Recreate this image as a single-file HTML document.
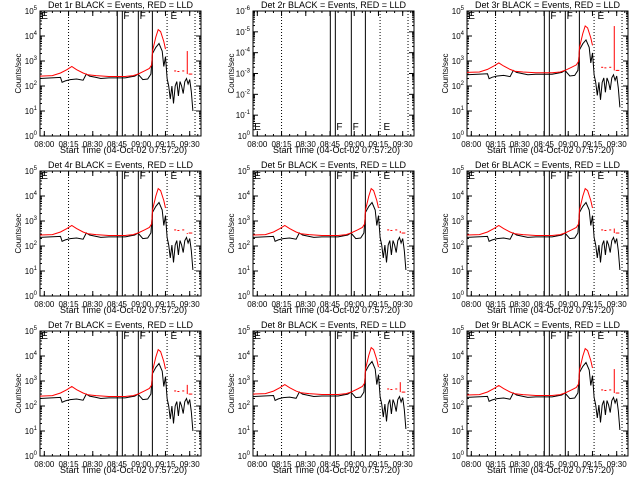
<!DOCTYPE html>
<html><head><meta charset="utf-8"><style>
html,body{margin:0;padding:0;background:#fff;}
svg{display:block;font-family:"Liberation Sans",sans-serif;}
</style></head><body>
<svg id="c" width="640" height="480" viewBox="0 0 640 480"></svg>
<script>
// ---- data ----
const detectors = ["1r","2r","3r","4r","5r","6r","7r","8r","9r"];
const hasData = [true,false,true,true,true,true,true,true,true];
const scale = [1.0,1,1.4,1.1,1.1,1.1,1.0,1.2,1.1];
const spikeRed = [2500,0,25000,300,400,500,700,900,3000];
const xTickLabels = ["08:00","08:15","08:30","08:45","09:00","09:15","09:30"];
const xTickMins = [0,15,30,45,60,75,90];
const solidLines = [45.2,48.3,58.2,66.9];
const dottedLines = [15,76,93.3];
const markers = [["E",-2.5],["F",48.3],["F",58.4],["E",77.5]];
const redT = [-2.7,5,10,14,17,20,24,27,32,40,50,55,58,62,65,66.5,67,69,70.5,72,74,75];
const redV = [250,260,330,450,600,450,330,280,260,240,240,260,300,400,500,700,2500,9000,18000,15000,6000,3000];
const blackT = [-2.7,10,11,13,16,20,24,26,28,32,35,40,50,56,58,61,64,66,67,69,71,73,74,75,76,77,78,79,80,81,82,83,84,85,86,87,88,89,90,91,92];
const blackV = [200,220,140,160,180,190,170,300,250,220,200,210,210,250,300,180,190,300,2000,3500,5000,2500,600,1500,200,100,30,100,20,100,150,40,150,100,50,150,200,120,180,60,10];
const redDotT = [81,83,86,90,91];
const redDotV = [400,380,400,300,300];
const spikeT = 88.5;

// ---- layout ----
const NS="http://www.w3.org/2000/svg";
const svg=document.getElementById('c');
const colX=[0,213,427], rowY=[0,160,320];
const BX0=40,BX1=201,BY0=11,BY1=136;
const tMin=-2.67,tMax=97;
function el(tag,attrs,parent){const e=document.createElementNS(NS,tag);for(const k in attrs)e.setAttribute(k,attrs[k]);(parent||svg).appendChild(e);return e;}

detectors.forEach((d,i)=>{
  const ox=colX[i%3], oy=rowY[Math.floor(i/3)];
  const g=el('g',{transform:`translate(${ox},${oy})`});
  
  
  const xs=t=>BX0+(t-tMin)/(tMax-tMin)*(BX1-BX0);
  const lo = hasData[i]?0:-6, hi = hasData[i]?5:0;
  const ys=v=>BY1-(Math.log10(v)-lo)/(hi-lo)*(BY1-BY0);
  const ysl=l=>BY1-(l-lo)/(hi-lo)*(BY1-BY0);
  const title=el('text',{x:(BX0+BX1)/2,y:8,'text-anchor':'middle','font-size':'9'},g);
  title.textContent=`Det ${d} BLACK = Events, RED = LLD`;
  
  
  const box=el('rect',{x:BX0,y:BY0,width:BX1-BX0,height:BY1-BY0,fill:'none',stroke:'#000','stroke-width':1},g);
  
  
  for(let k=0;k<=hi-lo;k++){
    const y=ysl(lo+k);
    el('line',{x1:BX0,x2:BX0+5,y1:y,y2:y,stroke:'#000'},g);
    el('line',{x1:BX1,x2:BX1-5,y1:y,y2:y,stroke:'#000'},g);
    if(k<hi-lo){for(let m=2;m<10;m++){const ym=ysl(lo+k+Math.log10(m));
      el('line',{x1:BX0,x2:BX0+2,y1:ym,y2:ym,stroke:'#000'},g);
      el('line',{x1:BX1,x2:BX1-2,y1:ym,y2:ym,stroke:'#000'},g);}}
    const lab=el('text',{x:BX0-3,y:y+3,'text-anchor':'end','font-size':'8'},g);
    const ex = hasData[i]? k : (k===0?0:(k===6?-6:-k));
    lab.innerHTML=`10<tspan dy="-4" font-size="6">${ex}</tspan>`;
    
    
  }
  xTickMins.forEach((t,j)=>{
    const x=xs(t);
    el('line',{x1:x,x2:x,y1:BY1,y2:BY1-5,stroke:'#000'},g);
    el('line',{x1:x,x2:x,y1:BY0,y2:BY0+5,stroke:'#000'},g);
    const lab=el('text',{x:x,y:BY1+11,'text-anchor':'middle','font-size':'8'},g);
    lab.textContent=xTickLabels[j];
    
    
  });
  for(let t=0;t<tMax;t+=5){const x=xs(t);
    el('line',{x1:x,x2:x,y1:BY1,y2:BY1-2,stroke:'#000'},g);
    el('line',{x1:x,x2:x,y1:BY0,y2:BY0+2,stroke:'#000'},g);}
  const xt=el('text',{x:(BX0+BX1)/2+3,y:153,'text-anchor':'middle','font-size':'9'},g);
  xt.textContent='Start Time (04-Oct-02 07:57:20)';
  
  
  const yt=el('text',{x:0,y:0,'text-anchor':'middle','font-size':'8',transform:`translate(21,${(BY0+BY1)/2}) rotate(-90)`},g);
  yt.textContent='Counts/sec';
  
  
  solidLines.forEach(t=>{const l=el('line',{x1:xs(t),x2:xs(t),y1:BY0,y2:BY1,stroke:'#000','stroke-width':1},g);
    
    });
  dottedLines.forEach(t=>{const l=el('line',{x1:xs(t),x2:xs(t),y1:BY0,y2:BY1,stroke:'#000','stroke-dasharray':'1,2'},g);
    
    });
  markers.forEach(([m,t])=>{const ty=hasData[i]?19:130;
    const tx=el('text',{x:xs(t)+1,y:ty,'font-size':'10'},g);tx.textContent=m;
    
    });
  if(hasData[i]){
    const s=scale[i];
    const cl=v=>Math.max(1.05,Math.min(99000,v));
    let pb='';blackT.forEach((t,j)=>{pb+=(j?'L':'M')+xs(t).toFixed(1)+','+ys(cl(blackV[j]*s)).toFixed(1);});
    const bl=el('path',{d:pb,fill:'none',stroke:'#000','stroke-width':1},g);
    
    
    let pr='';redT.forEach((t,j)=>{pr+=(j?'L':'M')+xs(t).toFixed(1)+','+ys(cl(redV[j]*s)).toFixed(1);});
    const rl=el('path',{d:pr,fill:'none',stroke:'#f00','stroke-width':1},g);
    
    
    redDotT.forEach((t,j)=>{const y=ys(redDotV[j]*s);
      const r=el('line',{x1:xs(t)-1,x2:xs(t)+1,y1:y,y2:y,stroke:'#f00'},g);
      
      });
    const sp=el('line',{x1:xs(spikeT),x2:xs(spikeT),y1:ys(300*s),y2:ys(Math.max(spikeRed[i],301)),stroke:'#f00'},g);
    
    
  }
});
</script>
</body></html>
